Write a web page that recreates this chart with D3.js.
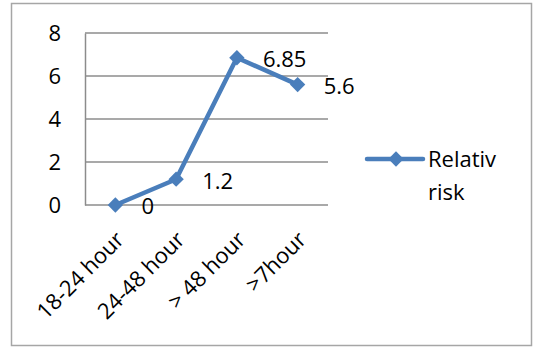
<!DOCTYPE html>
<html>
<head>
<meta charset="utf-8">
<script src="https://cdn.jsdelivr.net/npm/d3@7"></script>
<style>
  html, body { margin: 0; padding: 0; background: #fff; }
  svg { display: block; }
  text { font-family: "Open Sans", Lato, sans-serif; fill: #000; }
</style>
</head>
<body>
<svg id="chart" width="537" height="347"></svg>
<script>
// Relative risk by elapsed time
const categories = ["18-24 hour", "24-48 hour", "> 48 hour", ">7hour"];
const riskValues = [0, 1.2, 6.85, 5.6];
const valueLabels = ["0", "1.2", "6.85", "5.6"];
const yTicks = [0, 2, 4, 6, 8];
const seriesName = ["Relativ", "risk"];

const svg = d3.select("#chart");
const blue = "#4a7ebb";
const gridColor = "#8c8c8c";

// outer frame
svg.append("rect")
  .attr("x", 11.5).attr("y", 3.5)
  .attr("width", 520).attr("height", 342)
  .attr("fill", "none").attr("stroke", "#a6a6a6").attr("stroke-width", 1.5);

const plot = { left: 85, right: 328, top: 33, bottom: 205 };

const x = d3.scaleBand().domain(categories).range([plot.left, plot.right]);
const y = d3.scaleLinear().domain([0, 8]).range([plot.bottom, plot.top]);
const cx = d => x(d) + x.bandwidth() / 2;

// horizontal gridlines
svg.append("g").selectAll("line").data(yTicks).join("line")
  .attr("x1", plot.left).attr("x2", plot.right)
  .attr("y1", d => y(d)).attr("y2", d => y(d))
  .attr("stroke", gridColor).attr("stroke-width", 1.5);

// value axis
const yAxis = svg.append("g")
  .attr("transform", `translate(${plot.left},0)`)
  .call(d3.axisLeft(y).tickValues(yTicks).tickSize(0).tickPadding(24).tickFormat(d3.format("d")));
yAxis.select(".domain").attr("stroke", gridColor).attr("stroke-width", 1.5);
yAxis.selectAll("text")
  .style("font-family", "'Open Sans', Lato, sans-serif")
  .attr("font-size", 22).attr("fill", "#000").attr("dy", "0.36em");

// category labels, rotated
svg.append("g").selectAll("text").data(categories).join("text")
  .attr("transform", d => `translate(${cx(d) + 10},241) rotate(-45)`)
  .attr("text-anchor", "end")
  .attr("font-size", 22)
  .text(d => d);

// series line
const pts = categories.map((c, i) => ({ c, v: riskValues[i], label: valueLabels[i] }));
svg.append("path")
  .datum(pts)
  .attr("d", d3.line().x(d => cx(d.c)).y(d => y(d.v)))
  .attr("fill", "none").attr("stroke", blue).attr("stroke-width", 4.5)
  .attr("stroke-linejoin", "round");

// diamond markers
const diamond = d3.symbol().type(d3.symbolDiamond2).size(150);
svg.append("g").selectAll("path").data(pts).join("path")
  .attr("transform", d => `translate(${cx(d.c)},${y(d.v)})`)
  .attr("d", diamond)
  .attr("fill", blue);

// value labels
svg.append("g").selectAll("text").data(pts).join("text")
  .attr("x", d => cx(d.c) + 26)
  .attr("y", d => y(d.v) + 1.5)
  .attr("dy", "0.36em")
  .attr("font-size", 22)
  .text(d => d.label);

// legend
const lg = svg.append("g");
lg.append("line")
  .attr("x1", 367).attr("x2", 423).attr("y1", 159).attr("y2", 159)
  .attr("stroke", blue).attr("stroke-width", 4.5).attr("stroke-linecap", "round");
lg.append("path")
  .attr("transform", "translate(396,159)")
  .attr("d", diamond)
  .attr("fill", blue);
lg.append("text")
  .attr("x", 428).attr("font-size", 22)
  .selectAll("tspan").data(seriesName).join("tspan")
  .attr("x", 428)
  .attr("y", (d, i) => 167 + i * 33)
  .text(d => d);
</script>
</body>
</html>
